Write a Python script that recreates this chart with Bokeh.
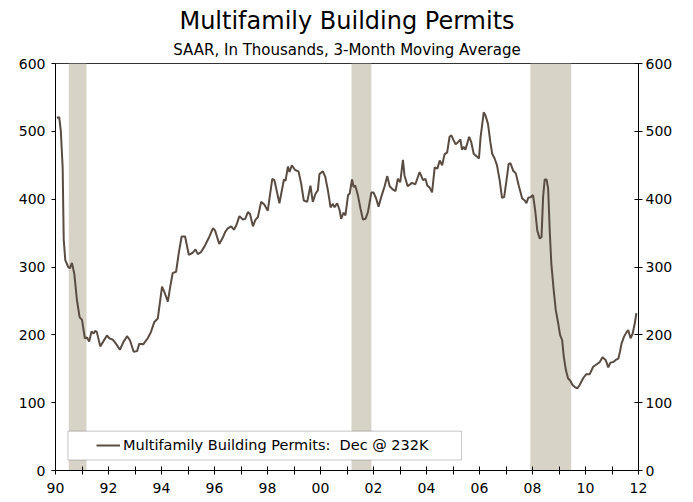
from bokeh.plotting import figure
from bokeh.models import (Range1d, LinearAxis, FixedTicker, Title, Legend,
                          LegendItem, BoxAnnotation)
from bokeh.embed import file_html
from bokeh.resources import INLINE

FONT = "DejaVu Sans"

# ---- data ----
dates = [
    1990.05, 1990.14, 1990.20, 1990.27, 1990.31, 1990.37, 1990.48, 1990.54, 1990.62, 1990.71,
    1990.81, 1990.91, 1991.00, 1991.06, 1991.11, 1991.19, 1991.27, 1991.36, 1991.44, 1991.50,
    1991.56, 1991.69, 1991.80, 1991.94, 1992.03, 1992.16, 1992.28, 1992.43, 1992.57, 1992.70,
    1992.81, 1992.95, 1993.08, 1993.16, 1993.31, 1993.48, 1993.60, 1993.73, 1993.86, 1994.02,
    1994.11, 1994.24, 1994.33, 1994.42, 1994.55, 1994.65, 1994.76, 1994.89, 1995.03, 1995.18,
    1995.28, 1995.37, 1995.49, 1995.62, 1995.72, 1995.81, 1995.94, 1996.02, 1996.18, 1996.31,
    1996.41, 1996.50, 1996.63, 1996.73, 1996.82, 1996.94, 1997.07, 1997.16, 1997.26, 1997.34,
    1997.45, 1997.54, 1997.64, 1997.76, 1997.88, 1998.01, 1998.18, 1998.26, 1998.45, 1998.62,
    1998.68, 1998.77, 1998.83, 1998.92, 1999.04, 1999.17, 1999.27, 1999.37, 1999.50, 1999.62,
    1999.71, 1999.81, 1999.90, 1999.96, 2000.09, 2000.18, 2000.28, 2000.38, 2000.47, 2000.53,
    2000.63, 2000.72, 2000.78, 2000.87, 2000.94, 2001.04, 2001.10, 2001.19, 2001.25, 2001.31,
    2001.41, 2001.51, 2001.60, 2001.70, 2001.79, 2001.92, 2002.00, 2002.10, 2002.19, 2002.29,
    2002.42, 2002.52, 2002.61, 2002.74, 2002.83, 2002.92, 2003.01, 2003.11, 2003.17, 2003.29,
    2003.45, 2003.58, 2003.74, 2003.87, 2003.96, 2004.03, 2004.12, 2004.21, 2004.31, 2004.41,
    2004.50, 2004.59, 2004.68, 2004.78, 2004.87, 2004.94, 2005.02, 2005.10, 2005.19, 2005.28,
    2005.34, 2005.40, 2005.47, 2005.61, 2005.69, 2005.78, 2005.92, 2005.98, 2006.04, 2006.16,
    2006.23, 2006.32, 2006.41, 2006.48, 2006.57, 2006.66, 2006.76, 2006.85, 2006.93, 2007.02,
    2007.10, 2007.17, 2007.27, 2007.37, 2007.48, 2007.61, 2007.71, 2007.77, 2007.84, 2007.93,
    2008.02, 2008.10, 2008.18, 2008.27, 2008.34, 2008.40, 2008.46, 2008.53, 2008.59, 2008.65,
    2008.71, 2008.80, 2008.88, 2008.97, 2009.04, 2009.12, 2009.18, 2009.26, 2009.34, 2009.43,
    2009.51, 2009.60, 2009.69, 2009.78, 2009.91, 2010.03, 2010.16, 2010.29, 2010.44, 2010.54,
    2010.64, 2010.76, 2010.86, 2010.94, 2011.05, 2011.14, 2011.24, 2011.30, 2011.36, 2011.45,
    2011.55, 2011.61, 2011.70, 2011.78, 2011.86, 2011.92,
]
permits = [
    520, 521, 501, 447, 340, 310, 300, 298, 306, 290,
    251, 226, 222, 207, 195, 196, 190, 205, 202, 206,
    204, 183, 190, 199, 195, 193, 187, 178, 190, 198,
    192, 175, 176, 187, 186, 195, 204, 219, 224, 271,
    263, 249, 271, 291, 293, 320, 345, 345, 318, 321,
    326, 319, 322, 330, 338, 345, 357, 354, 334, 343,
    352, 357, 360, 355, 361, 375, 370, 371, 381, 378,
    360, 369, 374, 396, 392, 383, 430, 428, 394, 429,
    427, 448, 440, 450, 443, 441, 423, 398, 396, 420,
    396, 408, 413, 437, 441, 433, 413, 388, 393, 388,
    394, 384, 371, 380, 376, 406, 408, 429, 418, 420,
    406, 386, 370, 371, 381, 410, 410, 401, 389, 403,
    419, 434, 419, 414, 412, 430, 425, 458, 435, 419,
    424, 422, 440, 428, 430, 420, 417, 410, 447, 445,
    457, 450, 466, 469, 492, 494, 487, 481, 484, 488,
    473, 477, 473, 492, 484, 467, 462, 460, 491, 528,
    523, 511, 484, 467, 460, 450, 428, 402, 403, 428,
    452, 453, 442, 438, 420, 401, 398, 394, 402, 403,
    406, 384, 354, 342, 344, 403, 429, 429, 416, 354,
    305, 266, 236, 217, 200, 192, 168, 148, 136, 132,
    126, 123, 121, 126, 136, 142, 142, 153, 157, 160,
    167, 163, 152, 159, 160, 163, 165, 175, 187, 197,
    204, 207, 195, 202, 217, 232,
]
recession_start = [1990.50, 2001.17, 2007.92]
recession_end = [1991.17, 2001.92, 2009.46]
x_ticks = list(range(1990, 2013))
x_tick_labels = {y: (f"{y % 100:02d}" if y % 2 == 0 else "") for y in x_ticks}
y_ticks = [0, 100, 200, 300, 400, 500, 600]
legend_label = "Multifamily Building Permits:  Dec @ 232K"

LINE_COLOR = "#594c43"
REC_COLOR = "#d7d3c7"
TICK_FS = "14px"

p = figure(width=693, height=500, output_backend="svg", toolbar_location=None,
           x_range=Range1d(1990, 2012), y_range=Range1d(0, 600), title=None,
           min_border_left=55, min_border_right=55, min_border_top=63,
           min_border_bottom=30)
p.xgrid.visible = False
p.ygrid.visible = False
p.outline_line_color = "#333333"
p.outline_line_width = 1
p.background_fill_color = "white"
p.border_fill_color = "white"

# recession bands
p.quad(left=recession_start, right=recession_end,
       bottom=p.y_range.start, top=p.y_range.end,
       fill_color=REC_COLOR, line_color=None)

line_r = p.line(dates, permits, line_color=LINE_COLOR, line_width=2)

# axes
for ax in p.xaxis:
    ax.ticker = FixedTicker(ticks=x_ticks)
    ax.major_label_overrides = x_tick_labels
    ax.major_tick_in = 4
    ax.major_tick_out = 4
    ax.minor_tick_line_color = None
    ax.major_label_standoff = 8
    ax.major_label_text_font = FONT
    ax.major_label_text_font_size = TICK_FS
    ax.major_label_text_color = "black"
    ax.axis_line_color = "black"
    ax.major_tick_line_color = "black"

for ax in p.yaxis:
    ax.ticker = FixedTicker(ticks=y_ticks)
    ax.major_tick_in = 0
    ax.major_tick_out = 4
    ax.minor_tick_line_color = None
    ax.major_label_standoff = 6
    ax.major_label_text_font = FONT
    ax.major_label_text_font_size = TICK_FS
    ax.major_label_text_color = "black"
    ax.axis_line_color = "black"
    ax.major_tick_line_color = "black"

right = LinearAxis(ticker=FixedTicker(ticks=y_ticks), major_tick_in=4,
                   major_tick_out=4, minor_tick_line_color=None,
                   major_label_standoff=3, major_label_text_font=FONT,
                   major_label_text_font_size=TICK_FS,
                   major_label_text_color="black", axis_line_color="black",
                   major_tick_line_color="black")
p.add_layout(right, "right")

# titles
sub = Title(text="SAAR, In Thousands, 3-Month Moving Average", align="center",
            text_font=FONT, text_font_size="15px", text_font_style="normal",
            text_color="black", standoff=9)
main = Title(text="Multifamily Building Permits", align="center",
             text_font=FONT, text_font_size="24px", text_font_style="normal",
             text_color="black", standoff=0)
p.add_layout(sub, "above")
p.add_layout(main, "above")

# legend box + legend
box = BoxAnnotation(left=1990.47, right=2005.32, bottom=15.5, top=58,
                    fill_color="white", fill_alpha=1.0,
                    line_color="#444444", line_width=1)
p.add_layout(box)
legend = Legend(items=[LegendItem(label=legend_label, renderers=[line_r])],
                location=(41, 17), padding=0, margin=0, spacing=0,
                border_line_alpha=0, background_fill_alpha=0,
                glyph_width=24, glyph_height=16, label_standoff=3,
                label_text_font=FONT, label_text_font_size="14.5px",
                label_text_color="black")
p.add_layout(legend)

open("out.html", "w").write(file_html(p, INLINE))
